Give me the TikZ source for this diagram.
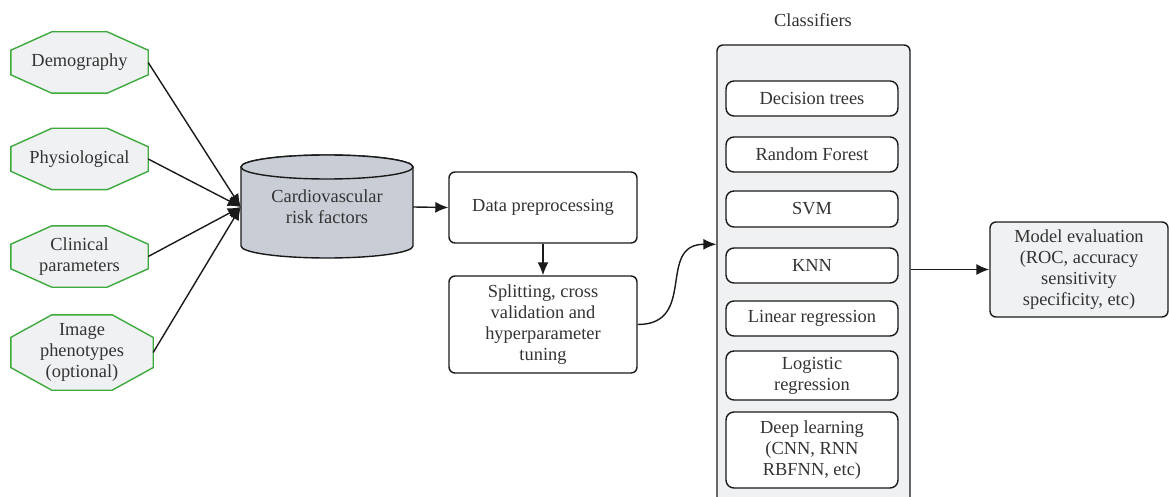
\documentclass[tikz,border=0pt]{standalone}
\usepackage{fontspec}
\setmainfont{Liberation Serif}
\newfontfamily\labelfont{Liberation Serif}
\usetikzlibrary{arrows.meta,calc,backgrounds}

\definecolor{paleFill}{HTML}{F0F1F3}
\definecolor{octGreen}{HTML}{3DAA3D}
\definecolor{cylFill}{HTML}{C9CED6}
\definecolor{txtGray}{HTML}{333333}
\definecolor{lineDark}{HTML}{1A1A1A}

% octagonal outline drawn round a node, corners cut 41pt wide
\newcommand{\octframe}[1]{%
  \path[octline] let \p1=(#1.north west), \p2=(#1.south east), \n1={0.3*(\y1-\y2)} in
    (\x1,\y1-\n1) -- (\x1+41pt,\y1) -- (\x2-41pt,\y1) -- (\x2,\y1-\n1) --
    (\x2,\y2+\n1) -- (\x2-41pt,\y2) -- (\x1+41pt,\y2) -- (\x1,\y2+\n1) -- cycle;}

\tikzset{
  base/.style={font=\labelfont\fontsize{18.4}{21}\selectfont, text=txtGray, align=center, inner sep=0pt},
  octnode/.style={base, minimum width=137pt, minimum height=61pt},
  octline/.style={draw=octGreen, fill=paleFill, line width=1.4pt},
  procbox/.style={base, draw=lineDark, fill=white, line width=1.4pt, rounded corners=6pt,
    minimum width=188pt},
  clsbox/.style={base, draw=lineDark, fill=white, line width=1.4pt, rounded corners=8pt,
    minimum width=172pt},
  panel/.style={draw=lineDark, fill=paleFill, line width=1.4pt, rounded corners=6pt, inner sep=0pt},
  link/.style={draw=lineDark, line width=1.4pt, -{Latex[length=13pt,width=11pt]}},
  cylline/.style={draw=lineDark, fill=cylFill, line width=1.4pt}
}

\begin{document}
\begin{tikzpicture}[x=1pt,y=1pt]
\useasboundingbox (0,0) rectangle (1169,-497);
\clip (0,0) rectangle (1169,-497);

% input groups
\node[octnode] (demo)  at (79.5,-62.5) {Demography};
\node[octnode] (phys)  at (79.5,-159)  {Physiological};
\node[octnode] (clin)  at (79.5,-256.5) {Clinical\\parameters};
\node[octnode, minimum width=142pt, minimum height=75pt] (img) at (82,-352.5) {Image\\phenotypes\\(optional)};
\begin{scope}[on background layer]
  \octframe{demo}
  \octframe{phys}
  \octframe{clin}
  \octframe{img}
\end{scope}

% data store
\path[cylline] (241,-167) -- (241,-246)
  arc[start angle=180, end angle=360, x radius=86pt, y radius=12pt] -- (413,-167)
  arc[start angle=0, end angle=180, x radius=86pt, y radius=12pt] -- cycle;
\draw[cylline] (327,-167) ellipse [x radius=86pt, y radius=12pt];
\node[base, minimum width=172pt, minimum height=80pt] (cyl) at (327,-207) {Cardiovascular\\risk factors};

% processing
\node[procbox, minimum height=71pt] (prep)  at (543,-207.5) {Data preprocessing};
\node[procbox, minimum height=97pt] (split) at (543,-324.5) {Splitting, cross\\validation and\\hyperparameter\\tuning};

% classifiers panel
\node[base] (clstitle) at (813,-20) {Classifiers};
\node[panel, minimum width=193pt, minimum height=500pt] (cls) at (813.5,-295) {};
\node[clsbox, minimum height=35pt] (dt)  at (812,-98.5)  {Decision trees};
\node[clsbox, minimum height=35pt] (rf)  at (812,-154.5) {Random Forest};
\node[clsbox, minimum height=36pt] (svm) at (812,-209)   {SVM};
\node[clsbox, minimum height=35pt] (knn) at (812,-265.5) {KNN};
\node[clsbox, minimum height=35pt] (lin) at (812,-318.5) {Linear regression};
\node[clsbox, minimum height=49pt] (log) at (812,-375.5) {Logistic\\regression};
\node[clsbox, minimum height=76pt] (dl)  at (812,-450)   {Deep learning\\(CNN, RNN\\RBFNN, etc)};
\coordinate (clsin) at ($(cls.north west)+(0,-200)$);

% evaluation
\node[base, draw=lineDark, fill=paleFill, line width=1.4pt, rounded corners=6pt,
  minimum width=178pt, minimum height=95pt] (eval) at (1079,-269.5)
  {Model evaluation\\(ROC, accuracy\\sensitivity\\specificity, etc)};

% connectors
\foreach \src in {demo,phys,clin,img}
  \draw[link] (\src.east) -- (cyl.west);
\draw[link] (cyl.east) -- (prep.west);
\draw[link] (prep.south) -- (split.north);
\draw[link] (split.east) .. controls +(60,0) and +(-60,0) .. (clsin);
\draw[link] (cls.east |- eval.west) -- (eval.west);
\end{tikzpicture}
\end{document}
